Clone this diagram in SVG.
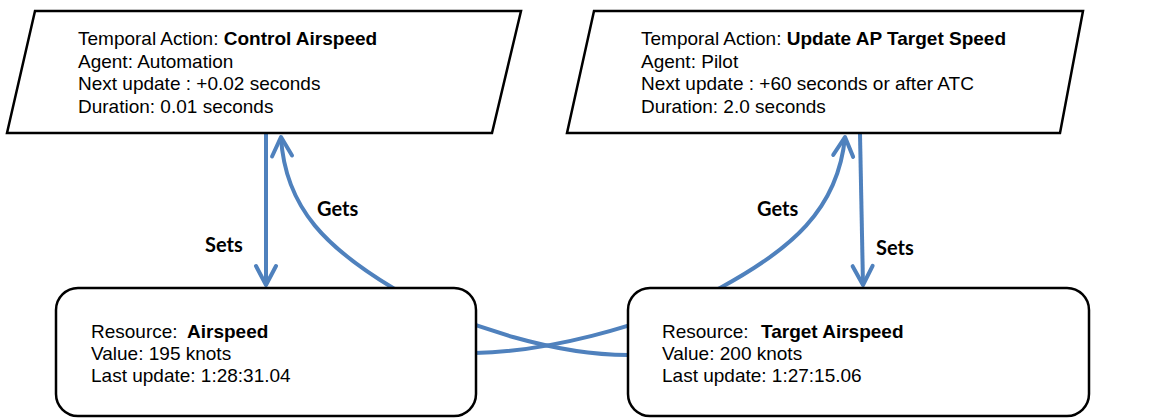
<svg xmlns="http://www.w3.org/2000/svg" width="1152" height="419" viewBox="0 0 1152 419">
  <style>
    .node { fill: #ffffff; stroke: #000000; stroke-width: 2.5; }
    .txt { font-family: "Liberation Sans", Arial, sans-serif; font-size: 19px; fill: #000000; }
    .b { font-weight: bold; }
    .conn { fill: none; stroke: #4F81BD; stroke-width: 4; }
    .lbl { font-family: Lato, "Open Sans", sans-serif; font-weight: bold; font-size: 20px; fill: #000000; }
  </style>
  <defs>
    <marker id="arrow" markerUnits="userSpaceOnUse" viewBox="-24 -14 28 28" refX="0" refY="0" markerWidth="28" markerHeight="28" orient="auto">
      <path d="M-19,-10 L0,0 L-19,10" fill="none" stroke="#4F81BD" stroke-width="4" stroke-linejoin="round" stroke-linecap="round"/>
    </marker>
  </defs>
  <rect width="1152" height="419" fill="#ffffff"/>

  <g id="connectors">
    <path class="conn" d="M266,134 L266,285" marker-end="url(#arrow)"/>
    <path class="conn" d="M660,356 L628,355 C560,355 470,330 393,288 C330,250 285,210 281,137" marker-end="url(#arrow)"/>
    <path class="conn" d="M440,353 L475,353 C540,352 640,330 720,288 C790,250 838,210 845,137" marker-end="url(#arrow)"/>
    <path class="conn" d="M860,134 L863,285" marker-end="url(#arrow)"/>
  </g>

  <g id="labels">
    <text class="lbl" x="205" y="252">Sets</text>
    <text class="lbl" x="317" y="216">Gets</text>
    <text class="lbl" x="757" y="216">Gets</text>
    <text class="lbl" x="876" y="255">Sets</text>
  </g>

  <g id="action-control-airspeed">
    <polygon class="node" points="35,11 521,11 492,133 7,133"/>
    <text class="txt" x="78" y="45">Temporal Action: <tspan class="b">Control Airspeed</tspan></text>
    <text class="txt" x="78" y="67.5">Agent: Automation</text>
    <text class="txt" x="78" y="90">Next update : +0.02 seconds</text>
    <text class="txt" x="78" y="112.5">Duration: 0.01 seconds</text>
  </g>

  <g id="action-update-ap-target-speed">
    <polygon class="node" points="594,11 1083,11 1060,133 567,133"/>
    <text class="txt" x="641" y="45">Temporal Action: <tspan class="b">Update AP Target Speed</tspan></text>
    <text class="txt" x="641" y="67.5">Agent: Pilot</text>
    <text class="txt" x="641" y="90">Next update : +60 seconds or after ATC</text>
    <text class="txt" x="641" y="112.5">Duration: 2.0 seconds</text>
  </g>

  <g id="resource-airspeed">
    <rect class="node" x="56" y="288" width="420" height="128" rx="22" ry="22"/>
    <text class="txt" x="91" y="338">Resource:<tspan class="b" x="187">Airspeed</tspan></text>
    <text class="txt" x="91" y="360">Value: 195 knots</text>
    <text class="txt" x="91" y="382">Last update: 1:28:31.04</text>
  </g>

  <g id="resource-target-airspeed">
    <rect class="node" x="628" y="288" width="461" height="128" rx="22" ry="22"/>
    <text class="txt" x="662" y="338">Resource:<tspan class="b" x="761">Target Airspeed</tspan></text>
    <text class="txt" x="662" y="360">Value: 200 knots</text>
    <text class="txt" x="662" y="382">Last update: 1:27:15.06</text>
  </g>
</svg>
